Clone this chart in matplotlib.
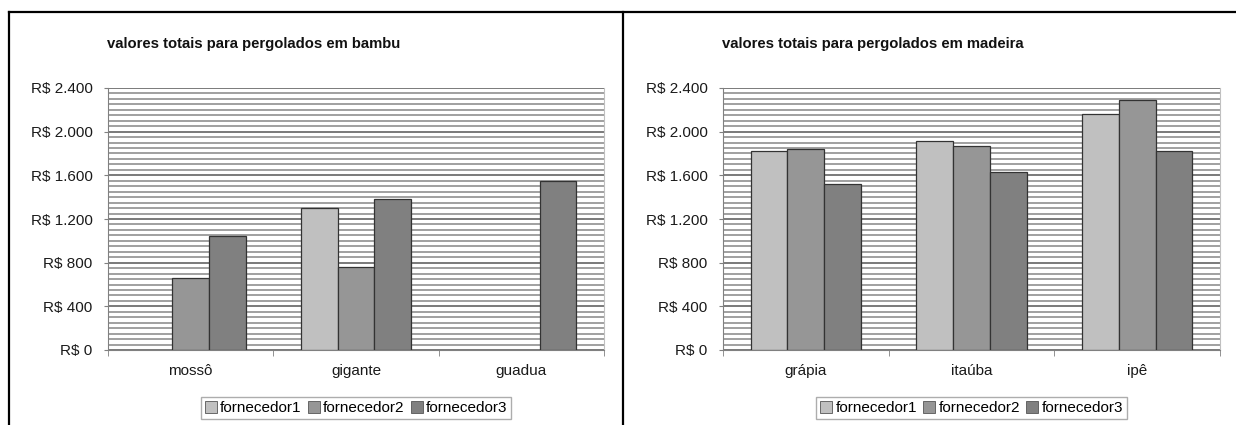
import numpy as np
import matplotlib
matplotlib.use("Agg")
import matplotlib.pyplot as plt
from matplotlib.ticker import FuncFormatter
from matplotlib.lines import Line2D

plt.rcParams['font.family'] = ['Liberation Sans', 'DejaVu Sans']

# dados
fornecedores = ["fornecedor1", "fornecedor2", "fornecedor3"]
cores = ["#c0c0c0", "#969696", "#808080"]

bambu_tipos = ["mossô", "gigante", "guadua"]
bambu_f1 = [np.nan, 1300, np.nan]
bambu_f2 = [660, 760, np.nan]
bambu_f3 = [1045, 1380, 1545]

madeira_tipos = ["grápia", "itaúba", "ipê"]
madeira_f1 = [1825, 1915, 2165]
madeira_f2 = [1840, 1870, 2290]
madeira_f3 = [1520, 1635, 1825]

titulos = ["valores totais para pergolados em bambu",
           "valores totais para pergolados em madeira"]

W, H = 1236, 425
fig = plt.figure(figsize=(W / 100, H / 100), dpi=100)


def reais(v, pos):
    return "R$ " + f"{int(v):,}".replace(",", ".")


def grafico(px_esq, px_dir, tipos, series, titulo):
    ax = fig.add_axes([px_esq / W, (H - 350) / H, (px_dir - px_esq) / W, 262 / H])
    x = np.arange(len(tipos))
    larg = 1 / 4.5
    for i, (vals, cor) in enumerate(zip(series, cores)):
        ax.bar(x + (i - 1) * larg, vals, larg, color=cor, edgecolor="#333333",
               linewidth=0.9, zorder=3, label=fornecedores[i])
    ax.set_xlim(-0.5, len(tipos) - 0.5)
    ax.set_ylim(0, 2400)
    ax.set_yticks(np.arange(0, 2401, 400))
    ax.set_yticks(np.arange(0, 2401, 50), minor=True)
    ax.yaxis.set_major_formatter(FuncFormatter(reais))
    ax.grid(axis="y", which="minor", color="#a0a0a0", linewidth=1.4, zorder=0)
    ax.grid(axis="y", which="major", color="#7a7a7a", linewidth=1.4, zorder=0)
    ax.tick_params(axis="y", which="minor", length=0)
    ax.tick_params(axis="y", which="major", length=3, color="#808080",
                   labelsize=11, labelcolor="#1a1a1a", pad=8)
    ax.set_xticks(x)
    ax.set_xticklabels(tipos)
    ax.tick_params(axis="x", which="major", length=0, labelsize=11,
                   labelcolor="#1a1a1a", pad=10)
    ax.set_xticks(np.arange(-0.5, len(tipos), 1.0), minor=True)
    ax.tick_params(axis="x", which="minor", length=4, color="#808080")
    for s in ["left", "bottom"]:
        ax.spines[s].set_color("#808080")
    ax.spines["top"].set_visible(False)
    ax.spines["right"].set_color("#c0c0c0")
    fig.text((px_esq - 1) / W, 1 - 44 / H, titulo, ha="left", va="center",
             fontsize=10.7, fontweight="bold", color="#111111")
    alc = [Line2D([], [], marker="s", linestyle="", markersize=8,
                  markerfacecolor=c, markeredgecolor="#555555", markeredgewidth=0.6)
           for c in cores]
    leg = fig.legend(alc, fornecedores, loc="center",
                     bbox_to_anchor=((px_esq + px_dir) / 2 / W, 1 - 408 / H),
                     ncol=3, fontsize=11, frameon=True, fancybox=False,
                     edgecolor="#999999", handlelength=0.8, handletextpad=0.2,
                     columnspacing=0.4, borderpad=0.25, borderaxespad=0)
    leg.get_frame().set_linewidth(1.0)
    return ax


grafico(108, 604, bambu_tipos, [bambu_f1, bambu_f2, bambu_f3], titulos[0])
grafico(723, 1220, madeira_tipos, [madeira_f1, madeira_f2, madeira_f3], titulos[1])

# moldura da tabela
fig.add_artist(Line2D([9 / W, 1], [1 - 12 / H, 1 - 12 / H], color="black", linewidth=1.6))
fig.add_artist(Line2D([9 / W, 9 / W], [0, 1 - 12 / H], color="black", linewidth=1.6))
fig.add_artist(Line2D([623 / W, 623 / W], [0, 1 - 12 / H], color="black", linewidth=1.6))

fig.savefig("out.png", dpi=100)
